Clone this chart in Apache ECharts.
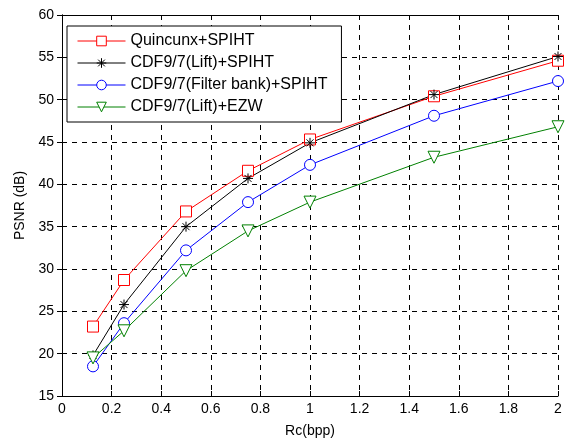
<!DOCTYPE html>
<html>
<head>
<meta charset="utf-8">
<title>PSNR vs Rc</title>
<style>
  html, body { margin: 0; padding: 0; background: #fff; }
  #container { width: 567px; height: 439px; }
</style>
</head>
<body>
<div id="container"></div>
<script src="https://cdn.jsdelivr.net/npm/echarts@6/dist/echarts.min.js"></script>
<script>
var rates = [0.125, 0.25, 0.5, 0.75, 1, 1.5, 2];
var quincunx = [23.2, 28.7, 36.8, 41.6, 45.3, 50.4, 54.6];
var liftSpiht = [19.8, 25.8, 35.0, 40.7, 44.9, 50.6, 55.1];
var filterBank = [18.5, 23.6, 32.2, 37.9, 42.3, 48.1, 52.2];
var liftEzw = [19.5, 22.7, 29.8, 34.5, 37.9, 43.2, 46.8];
var names = ['Quincunx+SPIHT', 'CDF9/7(Lift)+SPIHT', 'CDF9/7(Filter bank)+SPIHT', 'CDF9/7(Lift)+EZW'];

function pairs(ys) {
  return rates.map(function (x, i) { return [x, ys[i]]; });
}

var font = 'Liberation Sans, Arial, sans-serif';
var star = 'path://M5,0 L5,10 M0,5 L10,5 M1.5,1.5 L8.5,8.5 M8.5,1.5 L1.5,8.5';

function line(name, ys, color, symbol, size, rotate) {
  return {
    name: name,
    type: 'line',
    data: pairs(ys),
    symbol: symbol,
    symbolSize: size,
    symbolRotate: rotate || 0,
    showAllSymbol: true,
    lineStyle: { color: color, width: 1 },
    itemStyle: { color: '#fff', borderColor: color, borderWidth: 1 },
    emphasis: { disabled: true },
    animation: false,
    z: 3
  };
}

var myChart = echarts.init(document.getElementById('container'));
var option = {
  animation: false,
  textStyle: { fontFamily: font },
  grid: { left: 62, right: 9, top: 15, bottom: 43, outerBoundsMode: 'none', containLabel: false },
  legend: {
    left: 67, top: 26,
    orient: 'vertical',
    backgroundColor: '#fff',
    borderColor: '#000',
    borderWidth: 1,
    borderRadius: 0,
    padding: [7, 14, 7, 10],
    itemGap: 6,
    itemWidth: 48,
    itemHeight: 12,
    lineStyle: { width: 1 },
    itemStyle: { borderWidth: 1 },
    textStyle: { fontSize: 16, color: '#000', fontFamily: font },
    data: names
  },
  xAxis: [{
    type: 'value', min: 0, max: 2, interval: 0.2,
    name: 'Rc(bpp)', nameLocation: 'middle', nameGap: 28,
    nameTextStyle: { fontSize: 14, color: '#000' },
    axisLine: { onZero: false, lineStyle: { color: '#000', width: 1 } },
    axisTick: { inside: true, length: 5, lineStyle: { color: '#000' } },
    axisLabel: { color: '#000', fontSize: 14, margin: 6,
      formatter: function (v) { return String(Math.round(v * 10) / 10); } },
    splitLine: { show: true, lineStyle: { color: '#000', type: [5, 5], width: 1 } }
  }, {
    type: 'value', min: 0, max: 2, interval: 0.2, position: 'top',
    axisLine: { show: true, lineStyle: { color: '#000' } },
    axisTick: { inside: true, length: 5, lineStyle: { color: '#000' } },
    axisLabel: { show: false }, splitLine: { show: false }
  }],
  yAxis: [{
    type: 'value', min: 15, max: 60, interval: 5,
    name: 'PSNR (dB)', nameLocation: 'middle', nameGap: 34,
    nameTextStyle: { fontSize: 14, color: '#000' },
    axisLine: { show: true, onZero: false, lineStyle: { color: '#000', width: 1 } },
    axisTick: { show: true, inside: true, length: 5, lineStyle: { color: '#000' } },
    axisLabel: { color: '#000', fontSize: 14, margin: 8 },
    splitLine: { show: true, lineStyle: { color: '#000', type: [5, 5], width: 1 } }
  }, {
    type: 'value', min: 15, max: 60, interval: 5, position: 'right',
    axisLine: { show: true, lineStyle: { color: '#000' } },
    axisTick: { show: true, inside: true, length: 5, lineStyle: { color: '#000' } },
    axisLabel: { show: false }, splitLine: { show: false }
  }],
  series: [
    line(names[0], quincunx, '#ff0000', 'rect', 11),
    line(names[1], liftSpiht, '#000000', star, 10),
    line(names[2], filterBank, '#0000ff', 'circle', 11),
    line(names[3], liftEzw, '#008000', 'triangle', 12, 180)
  ]
};
myChart.setOption(option);
</script>
</body>
</html>
